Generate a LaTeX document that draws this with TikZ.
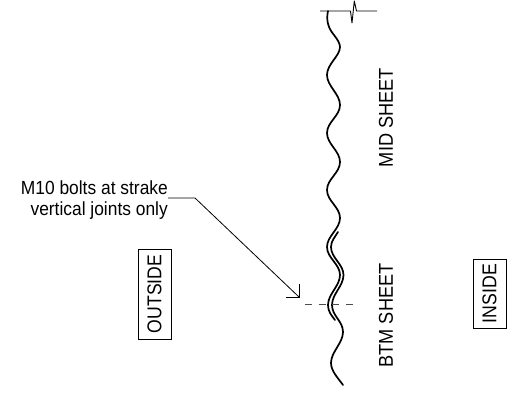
\documentclass[tikz,border=0pt]{standalone}
\usepackage{fontspec}
\setmainfont{Liberation Sans}
\tikzset{
  x=1pt,y=-1pt,
  sheet/.style={line width=1.7pt,line cap=round,line join=round},
  lbl/.style={inner sep=0pt,font=\fontsize{19}{23}\selectfont},
  vlbl/.style={inner sep=0pt,rotate=90,font=\fontsize{20}{23}\selectfont},
  boxed/.style={draw,line width=0.9pt,rotate=90,minimum height=33pt,inner sep=0pt,font=\fontsize{20}{22}\selectfont},
}
\begin{document}
\begin{tikzpicture}
\useasboundingbox (0,0) rectangle (525,395);
% text
\node[lbl,anchor=east] (t1) at (168,188) {\scalebox{.915}[1]{M10 bolts at strake}};
\node[lbl,anchor=east] (t2) at (168,211) {\scalebox{.915}[1]{vertical joints only}};
\node[vlbl] (mid) at (386,117.5) {\scalebox{.91}[1]{MID SHEET}};
\node[vlbl] (btm) at (386,315.5) {\scalebox{.91}[1]{BTM SHEET}};
\node[boxed,minimum width=90pt] (out) at (154.5,294) {\scalebox{.88}[1]{OUTSIDE}};
\node[boxed,minimum width=69pt] (ins) at (489.5,293.5) {\scalebox{.885}[1]{INSIDE}};
% mid sheet
\draw[sheet] (328,11) .. controls (326,20) and (328,28) .. (334,35)
  .. controls (338,40) and (340,44) .. (340,47)
  .. controls (340,56) and (327,64) .. (327,75)
  .. controls (327,86) and (340,94) .. (340,105)
  .. controls (340,116) and (327,122) .. (327,133)
  .. controls (327,144) and (340,151) .. (340,162)
  .. controls (340,173) and (327,179) .. (327,190)
  .. controls (327,201) and (340,207) .. (340,218)
  .. controls (340,229) and (327,236) .. (327,247)
  .. controls (327,258) and (340,264) .. (340,275)
  .. controls (340,286) and (328,294) .. (328,305)
  .. controls (328,311) and (331,315) .. (335,320);
% btm sheet
\draw[sheet] (338,232) .. controls (335,237) and (331,241) .. (331,247)
  .. controls (331,258) and (343.5,264) .. (343.5,275)
  .. controls (343.5,286) and (332,294) .. (332,305)
  .. controls (332,316) and (343,321) .. (343,332)
  .. controls (343,343) and (331,352) .. (331,363)
  .. controls (331,371) and (338,378) .. (343,385);
% top line with break
\draw[line width=0.9pt,line join=round] (320,11) -- (350.5,11) -- (352,23) -- (354.3,1) -- (356.5,11) -- (377,11);
% dashed
\draw[line width=0.8pt,black!70,dash pattern=on 7pt off 6.67pt] (305,304) -- (353,304);
% leader
\coordinate (ltip) at (299,297);
\draw[line width=0.8pt] (168,198) -- (195,198) -- (ltip);
\draw[line width=0.8pt] (286,297) -- (ltip) -- (299,284);
\end{tikzpicture}
\end{document}
